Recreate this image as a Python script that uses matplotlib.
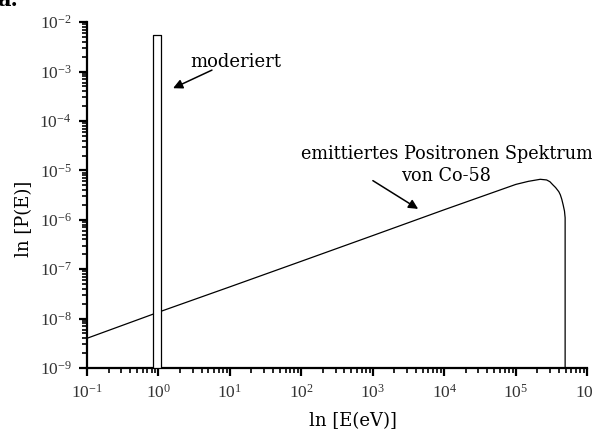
import numpy as np
import matplotlib
matplotlib.use("Agg")
import matplotlib.pyplot as plt
from matplotlib.ticker import LogLocator, LogFormatterMathtext, NullFormatter

plt.rcParams['font.family'] = ['DejaVu Serif']
plt.rcParams['mathtext.fontset'] = 'custom'
plt.rcParams['mathtext.rm'] = 'Liberation Serif'
plt.rcParams['mathtext.it'] = 'Liberation Serif:italic'

# emitted positron spectrum of Co-58
energy_eV = [0.1, 1, 10, 100, 1e3, 1e4, 1e5, 1.5e5, 2.2e5, 2.7e5, 3.0e5,
             3.3e5, 3.6e5, 4.0e5, 4.2e5, 4.4e5, 4.6e5, 4.8e5, 4.9e5, 4.9e5]
prob = [4.0e-9, 1.35e-8, 4.4e-8, 1.45e-7, 4.8e-7, 1.6e-6, 5.2e-6, 6.0e-6,
        6.6e-6, 6.4e-6, 5.9e-6, 5.1e-6, 4.5e-6, 3.7e-6, 3.2e-6, 2.6e-6,
        2.0e-6, 1.5e-6, 1.1e-6, 1e-9]

# moderated positrons: narrow bar around 1 eV
mod_left, mod_right = 0.85, 1.1
mod_height = 5.5e-3

fig = plt.figure(figsize=(5.92, 4.34), dpi=100)
ax = fig.add_axes([0.147, 0.152, 0.845, 0.797])

ax.plot(energy_eV, prob, color='black', lw=0.9)
ax.fill_between([mod_left, mod_right], 1e-9, mod_height, facecolor='white',
                edgecolor='black', lw=0.9, zorder=3)

ax.set_xscale('log')
ax.set_yscale('log')
ax.set_xlim(0.1, 1e6)
ax.set_ylim(1e-9, 1e-2)

for s in ['top', 'right']:
    ax.spines[s].set_visible(False)
for s in ['left', 'bottom']:
    ax.spines[s].set_linewidth(1.6)

ax.xaxis.set_major_locator(LogLocator(base=10, numticks=20))
ax.xaxis.set_minor_locator(LogLocator(base=10, subs=np.arange(2, 10), numticks=20))
ax.yaxis.set_major_locator(LogLocator(base=10, numticks=20))
ax.yaxis.set_minor_locator(LogLocator(base=10, subs=np.arange(2, 10), numticks=20))
ax.xaxis.set_major_formatter(LogFormatterMathtext())
ax.yaxis.set_major_formatter(LogFormatterMathtext())
ax.xaxis.set_minor_formatter(NullFormatter())
ax.yaxis.set_minor_formatter(NullFormatter())
ax.tick_params(which='major', direction='out', length=6, width=1.6, labelsize=12.5,
               labelcolor='#333333', labelfontfamily='Liberation Serif')
ax.tick_params(which='minor', direction='out', length=3.5, width=1.2)
ax.tick_params(axis='x', pad=5)
ax.tick_params(axis='y', pad=5)

ax.set_xlabel('ln [E(eV)]', fontsize=13)
ax.set_ylabel('ln [P(E)]', fontsize=13)
ax.xaxis.set_label_coords(0.532, -0.127)
ax.yaxis.set_label_coords(-0.108, 0.43)

ax.text(12, 1.55e-3, 'moderiert', fontsize=13, ha='center', va='center')
ax.annotate('', xy=(1.6, 4.6e-4), xytext=(5.6, 1.07e-3),
            arrowprops=dict(arrowstyle='-|>', color='black', lw=1.1,
                            mutation_scale=14, shrinkA=0, shrinkB=0))
ax.text(1.07e4, 1.29e-5, 'emittiertes Positronen Spektrum\nvon Co-58',
        fontsize=12.7, ha='center', va='center', linespacing=1.3)
ax.annotate('', xy=(4.3e3, 1.66e-6), xytext=(1e3, 6.2e-6),
            arrowprops=dict(arrowstyle='-|>', color='black', lw=1.1,
                            mutation_scale=14, shrinkA=0, shrinkB=0))

fig.text(-0.005, 1.0, 'a.', fontsize=15, fontweight='bold', va='center')

fig.savefig('out.png', dpi=100)
